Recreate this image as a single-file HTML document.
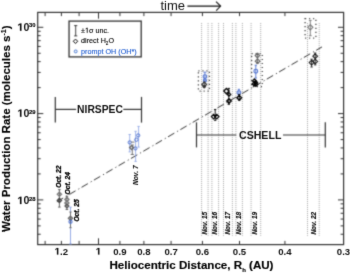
<!DOCTYPE html>
<html><head><meta charset="utf-8"><style>
html,body{margin:0;padding:0;background:#fff;}
svg{display:block;}
text{font-family:"Liberation Sans",sans-serif;}
.tl{font-size:9.6px;font-weight:bold;fill:#111;}
.yl{font-size:10.6px;font-weight:bold;fill:#111;}
.sup{font-size:5.9px;font-weight:bold;fill:#000;stroke:#000;stroke-width:0.12px;}
.lab{font-size:10.4px;font-weight:bold;fill:#111;}
.lg{font-size:7.2px;fill:#000;stroke:#000;stroke-width:0.12px;}
.lgb{fill:#1f5cd0;stroke:#1f5cd0;}
.time{font-size:13px;fill:#111;}
.ax{font-size:11.6px;font-weight:bold;fill:#000;stroke:#000;stroke-width:0.15px;}
.ay{font-size:11.5px;font-weight:bold;fill:#000;stroke:#000;stroke-width:0.15px;}
.dlm{font-size:6.7px;font-style:italic;font-weight:bold;fill:#111;stroke:#111;stroke-width:0.1px;}
.dl{font-size:6.5px;font-style:italic;font-weight:bold;fill:#111;stroke:#111;stroke-width:0.15px;}
.dlb{font-size:6.7px;font-style:italic;font-weight:bold;fill:#000;stroke:#000;stroke-width:0.3px;}
</style></head><body>
<svg width="350" height="273" viewBox="0 0 350 273">
<defs><filter id="bl" x="0" y="0" width="350" height="273" filterUnits="userSpaceOnUse" color-interpolation-filters="sRGB"><feConvolveMatrix order="3" kernelMatrix="0.0276 0.1109 0.0276 0.1109 0.4462 0.1109 0.0276 0.1109 0.0276" edgeMode="duplicate"/></filter>
<filter id="bt" x="0" y="0" width="350" height="273" filterUnits="userSpaceOnUse" color-interpolation-filters="sRGB"><feConvolveMatrix order="3" kernelMatrix="0.0100 0.0800 0.0100 0.0800 0.6400 0.0800 0.0100 0.0800 0.0100" edgeMode="none"/></filter></defs>
<g filter="url(#bl)">
<rect width="350" height="273" fill="#fff"/>
<rect x="37.7" y="12.4" width="305.90" height="232.20" fill="none" stroke="#333" stroke-width="1.2"/>
<line x1="45.11" y1="244.6" x2="45.11" y2="240.9" stroke="#333" stroke-width="1"/>
<line x1="45.11" y1="12.4" x2="45.11" y2="16.1" stroke="#333" stroke-width="1"/>
<line x1="61.40" y1="244.6" x2="61.40" y2="240.9" stroke="#333" stroke-width="1"/>
<line x1="61.40" y1="12.4" x2="61.40" y2="16.1" stroke="#333" stroke-width="1"/>
<line x1="79.10" y1="244.6" x2="79.10" y2="240.9" stroke="#333" stroke-width="1"/>
<line x1="79.10" y1="12.4" x2="79.10" y2="16.1" stroke="#333" stroke-width="1"/>
<line x1="119.93" y1="244.6" x2="119.93" y2="240.9" stroke="#333" stroke-width="1"/>
<line x1="119.93" y1="12.4" x2="119.93" y2="16.1" stroke="#333" stroke-width="1"/>
<line x1="143.90" y1="244.6" x2="143.90" y2="240.9" stroke="#333" stroke-width="1"/>
<line x1="143.90" y1="12.4" x2="143.90" y2="16.1" stroke="#333" stroke-width="1"/>
<line x1="171.07" y1="244.6" x2="171.07" y2="240.9" stroke="#333" stroke-width="1"/>
<line x1="171.07" y1="12.4" x2="171.07" y2="16.1" stroke="#333" stroke-width="1"/>
<line x1="202.43" y1="244.6" x2="202.43" y2="240.9" stroke="#333" stroke-width="1"/>
<line x1="202.43" y1="12.4" x2="202.43" y2="16.1" stroke="#333" stroke-width="1"/>
<line x1="239.53" y1="244.6" x2="239.53" y2="240.9" stroke="#333" stroke-width="1"/>
<line x1="239.53" y1="12.4" x2="239.53" y2="16.1" stroke="#333" stroke-width="1"/>
<line x1="284.93" y1="244.6" x2="284.93" y2="240.9" stroke="#333" stroke-width="1"/>
<line x1="284.93" y1="12.4" x2="284.93" y2="16.1" stroke="#333" stroke-width="1"/>
<line x1="98.50" y1="244.6" x2="98.50" y2="238.29999999999998" stroke="#333" stroke-width="1"/>
<line x1="98.50" y1="12.4" x2="98.50" y2="18.7" stroke="#333" stroke-width="1"/>
<line x1="37.7" y1="234.24" x2="40.7" y2="234.24" stroke="#333" stroke-width="1"/>
<line x1="343.6" y1="234.24" x2="340.6" y2="234.24" stroke="#333" stroke-width="1"/>
<line x1="37.7" y1="225.88" x2="40.7" y2="225.88" stroke="#333" stroke-width="1"/>
<line x1="343.6" y1="225.88" x2="340.6" y2="225.88" stroke="#333" stroke-width="1"/>
<line x1="37.7" y1="219.05" x2="40.7" y2="219.05" stroke="#333" stroke-width="1"/>
<line x1="343.6" y1="219.05" x2="340.6" y2="219.05" stroke="#333" stroke-width="1"/>
<line x1="37.7" y1="213.27" x2="40.7" y2="213.27" stroke="#333" stroke-width="1"/>
<line x1="343.6" y1="213.27" x2="340.6" y2="213.27" stroke="#333" stroke-width="1"/>
<line x1="37.7" y1="208.26" x2="40.7" y2="208.26" stroke="#333" stroke-width="1"/>
<line x1="343.6" y1="208.26" x2="340.6" y2="208.26" stroke="#333" stroke-width="1"/>
<line x1="37.7" y1="203.85" x2="40.7" y2="203.85" stroke="#333" stroke-width="1"/>
<line x1="343.6" y1="203.85" x2="340.6" y2="203.85" stroke="#333" stroke-width="1"/>
<line x1="37.7" y1="199.90" x2="43.300000000000004" y2="199.90" stroke="#333" stroke-width="1"/>
<line x1="343.6" y1="199.90" x2="338.0" y2="199.90" stroke="#333" stroke-width="1"/>
<line x1="37.7" y1="173.92" x2="40.7" y2="173.92" stroke="#333" stroke-width="1"/>
<line x1="343.6" y1="173.92" x2="340.6" y2="173.92" stroke="#333" stroke-width="1"/>
<line x1="37.7" y1="158.72" x2="40.7" y2="158.72" stroke="#333" stroke-width="1"/>
<line x1="343.6" y1="158.72" x2="340.6" y2="158.72" stroke="#333" stroke-width="1"/>
<line x1="37.7" y1="147.94" x2="40.7" y2="147.94" stroke="#333" stroke-width="1"/>
<line x1="343.6" y1="147.94" x2="340.6" y2="147.94" stroke="#333" stroke-width="1"/>
<line x1="37.7" y1="139.58" x2="40.7" y2="139.58" stroke="#333" stroke-width="1"/>
<line x1="343.6" y1="139.58" x2="340.6" y2="139.58" stroke="#333" stroke-width="1"/>
<line x1="37.7" y1="132.75" x2="40.7" y2="132.75" stroke="#333" stroke-width="1"/>
<line x1="343.6" y1="132.75" x2="340.6" y2="132.75" stroke="#333" stroke-width="1"/>
<line x1="37.7" y1="126.97" x2="40.7" y2="126.97" stroke="#333" stroke-width="1"/>
<line x1="343.6" y1="126.97" x2="340.6" y2="126.97" stroke="#333" stroke-width="1"/>
<line x1="37.7" y1="121.96" x2="40.7" y2="121.96" stroke="#333" stroke-width="1"/>
<line x1="343.6" y1="121.96" x2="340.6" y2="121.96" stroke="#333" stroke-width="1"/>
<line x1="37.7" y1="117.55" x2="40.7" y2="117.55" stroke="#333" stroke-width="1"/>
<line x1="343.6" y1="117.55" x2="340.6" y2="117.55" stroke="#333" stroke-width="1"/>
<line x1="37.7" y1="113.60" x2="43.300000000000004" y2="113.60" stroke="#333" stroke-width="1"/>
<line x1="343.6" y1="113.60" x2="338.0" y2="113.60" stroke="#333" stroke-width="1"/>
<line x1="37.7" y1="87.62" x2="40.7" y2="87.62" stroke="#333" stroke-width="1"/>
<line x1="343.6" y1="87.62" x2="340.6" y2="87.62" stroke="#333" stroke-width="1"/>
<line x1="37.7" y1="72.42" x2="40.7" y2="72.42" stroke="#333" stroke-width="1"/>
<line x1="343.6" y1="72.42" x2="340.6" y2="72.42" stroke="#333" stroke-width="1"/>
<line x1="37.7" y1="61.64" x2="40.7" y2="61.64" stroke="#333" stroke-width="1"/>
<line x1="343.6" y1="61.64" x2="340.6" y2="61.64" stroke="#333" stroke-width="1"/>
<line x1="37.7" y1="53.28" x2="40.7" y2="53.28" stroke="#333" stroke-width="1"/>
<line x1="343.6" y1="53.28" x2="340.6" y2="53.28" stroke="#333" stroke-width="1"/>
<line x1="37.7" y1="46.45" x2="40.7" y2="46.45" stroke="#333" stroke-width="1"/>
<line x1="343.6" y1="46.45" x2="340.6" y2="46.45" stroke="#333" stroke-width="1"/>
<line x1="37.7" y1="40.67" x2="40.7" y2="40.67" stroke="#333" stroke-width="1"/>
<line x1="343.6" y1="40.67" x2="340.6" y2="40.67" stroke="#333" stroke-width="1"/>
<line x1="37.7" y1="35.66" x2="40.7" y2="35.66" stroke="#333" stroke-width="1"/>
<line x1="343.6" y1="35.66" x2="340.6" y2="35.66" stroke="#333" stroke-width="1"/>
<line x1="37.7" y1="31.25" x2="40.7" y2="31.25" stroke="#333" stroke-width="1"/>
<line x1="343.6" y1="31.25" x2="340.6" y2="31.25" stroke="#333" stroke-width="1"/>
<line x1="37.7" y1="27.30" x2="43.300000000000004" y2="27.30" stroke="#333" stroke-width="1"/>
<line x1="343.6" y1="27.30" x2="338.0" y2="27.30" stroke="#333" stroke-width="1"/>
<line x1="201.6" y1="23" x2="201.6" y2="235.8" stroke="#a0a0a0" stroke-width="0.9" stroke-dasharray="1 1"/>
<line x1="208.1" y1="23" x2="208.1" y2="235.8" stroke="#a0a0a0" stroke-width="0.9" stroke-dasharray="1 1"/>
<line x1="211.9" y1="23" x2="211.9" y2="235.8" stroke="#a0a0a0" stroke-width="0.9" stroke-dasharray="1 1"/>
<line x1="218.6" y1="23" x2="218.6" y2="235.8" stroke="#a0a0a0" stroke-width="0.9" stroke-dasharray="1 1"/>
<line x1="223.5" y1="23" x2="223.5" y2="235.8" stroke="#a0a0a0" stroke-width="0.9" stroke-dasharray="1 1"/>
<line x1="232.4" y1="23" x2="232.4" y2="235.8" stroke="#a0a0a0" stroke-width="0.9" stroke-dasharray="1 1"/>
<line x1="235.9" y1="23" x2="235.9" y2="235.8" stroke="#a0a0a0" stroke-width="0.9" stroke-dasharray="1 1"/>
<line x1="242.4" y1="23" x2="242.4" y2="235.8" stroke="#a0a0a0" stroke-width="0.9" stroke-dasharray="1 1"/>
<line x1="251.1" y1="23" x2="251.1" y2="235.8" stroke="#a0a0a0" stroke-width="0.9" stroke-dasharray="1 1"/>
<line x1="260.7" y1="23" x2="260.7" y2="235.8" stroke="#a0a0a0" stroke-width="0.9" stroke-dasharray="1 1"/>
<line x1="307.5" y1="23" x2="307.5" y2="235.8" stroke="#a0a0a0" stroke-width="0.9" stroke-dasharray="1 1"/>
<line x1="319.2" y1="23" x2="319.2" y2="235.8" stroke="#a0a0a0" stroke-width="0.9" stroke-dasharray="1 1"/>
<line x1="55.4" y1="202.6" x2="322" y2="46.9" stroke="#111" stroke-width="0.85" stroke-dasharray="7.3 3.3 1.1 2.6" stroke-dashoffset="-1.7"/>
<line x1="55.3" y1="96.9" x2="55.3" y2="122.6" stroke="#333" stroke-width="1.2"/>
<line x1="141.5" y1="96.9" x2="141.5" y2="122.6" stroke="#333" stroke-width="1.2"/>
<line x1="55.3" y1="109.4" x2="76.1" y2="109.4" stroke="#333" stroke-width="1.2"/>
<line x1="123.3" y1="109.4" x2="141.5" y2="109.4" stroke="#333" stroke-width="1.2"/>
<line x1="196.5" y1="122.3" x2="196.5" y2="147.4" stroke="#333" stroke-width="1.2"/>
<line x1="325.3" y1="122.3" x2="325.3" y2="147.4" stroke="#333" stroke-width="1.2"/>
<line x1="196.5" y1="135" x2="236.3" y2="135" stroke="#333" stroke-width="1.2"/>
<line x1="283" y1="135" x2="325.3" y2="135" stroke="#333" stroke-width="1.2"/>
<rect x="69.05" y="21.1" width="72.15" height="35.8" fill="#fff" stroke="#333" stroke-width="1.3"/>
<path d="M75.7 25.6V35.9M74.1 25.6H77.3M74.1 35.9H77.3" fill="none" stroke="#222" stroke-width="0.85"/>
<path d="M75.5 39.1 L77.7 41.3 L75.5 43.5 L73.3 41.3 Z" fill="none" stroke="#000" stroke-width="1.0"/>
<circle cx="75.7" cy="51.4" r="1.45" fill="none" stroke="#2a62c8" stroke-width="0.85"/>
<line x1="187.4" y1="6.1" x2="220.4" y2="6.1" stroke="#111" stroke-width="1.05"/>
<path d="M216 1.6 L220.6 6.1 L216.2 10.6" fill="none" stroke="#111" stroke-width="1.05"/>
<rect x="198.4" y="70.8" width="11.00" height="20.30" fill="none" stroke="#444" stroke-width="1.3" stroke-dasharray="1.1 2.9"/>
<rect x="251.6" y="53.6" width="10.70" height="33.00" fill="none" stroke="#444" stroke-width="1.3" stroke-dasharray="1.1 2.9"/>
<rect x="305.1" y="18.6" width="10.80" height="19.50" fill="none" stroke="#444" stroke-width="1.3" stroke-dasharray="1.1 2.9"/>
<path d="M59.4 189.6V207.1M58.1 189.6H60.699999999999996M58.1 207.1H60.699999999999996" fill="none" stroke="#555" stroke-width="0.9"/>
<path d="M59.4 192.20000000000002L61.5 194.3L59.4 196.4L57.3 194.3Z" fill="none" stroke="#777" stroke-width="1.32"/>
<path d="M59.4 198.3L61.5 200.4L59.4 202.5L57.3 200.4Z" fill="none" stroke="#444" stroke-width="1.32"/>
<path d="M66.9 196.3V209.5M65.60000000000001 196.3H68.2M65.60000000000001 209.5H68.2" fill="none" stroke="#555" stroke-width="0.9"/>
<path d="M66.9 197.3L69.0 199.4L66.9 201.5L64.80000000000001 199.4Z" fill="none" stroke="#777" stroke-width="1.32"/>
<path d="M66.9 200.9L69.0 203L66.9 205.1L64.80000000000001 203Z" fill="none" stroke="#777" stroke-width="1.32"/>
<path d="M66.9 204.1L68.80000000000001 206L66.9 207.9L65.0 206Z" fill="none" stroke="#555" stroke-width="1.32"/>
<path d="M70.5 207.2V244M69.2 207.2H71.8M69.2 244H71.8" fill="none" stroke="#8aa2e2" stroke-width="0.9"/>
<path d="M70.5 212V227.7M69.3 212H71.7M69.3 227.7H71.7" fill="none" stroke="#666" stroke-width="0.9"/>
<path d="M70.5 216.1L72.6 218.2L70.5 220.29999999999998L68.4 218.2Z" fill="none" stroke="#666" stroke-width="1.32"/>
<circle cx="70.5" cy="221.8" r="1.6" fill="none" stroke="#5274d0" stroke-width="1.1"/>
<path d="M129.7 134.5V151.9M128.5 134.5H130.89999999999998M128.5 151.9H130.89999999999998" fill="none" stroke="#8aa2e2" stroke-width="0.8"/>
<circle cx="129.7" cy="142.4" r="1.6" fill="none" stroke="#5274d0" stroke-width="1.0"/>
<line x1="131.1" y1="142.1" x2="134.5" y2="142.1" stroke="#555" stroke-width="0.8"/>
<path d="M138.6 126.4V147.1M137.4 126.4H139.79999999999998M137.4 147.1H139.79999999999998" fill="none" stroke="#8aa2e2" stroke-width="0.8"/>
<circle cx="138.2" cy="135.4" r="1.6" fill="none" stroke="#5274d0" stroke-width="1.0"/>
<path d="M135.6 131.3V161.4M134.4 131.3H136.79999999999998M134.4 161.4H136.79999999999998" fill="none" stroke="#8aa2e2" stroke-width="0.8"/>
<circle cx="136.4" cy="139.7" r="1.7" fill="none" stroke="#5274d0" stroke-width="1.0"/>
<circle cx="135.4" cy="148.4" r="1.6" fill="none" stroke="#5274d0" stroke-width="1.0"/>
<path d="M132.3 145V154.5M130.70000000000002 145H133.9M130.70000000000002 154.5H133.9" fill="none" stroke="#666" stroke-width="0.9"/>
<path d="M131.6 145.6L133.6 147.6L131.6 149.6L129.6 147.6Z" fill="none" stroke="#666" stroke-width="1.32"/>
<path d="M204.9 72.2V81.0M203.4 72.2H206.4M203.4 81.0H206.4" fill="none" stroke="#5274d0" stroke-width="0.9"/>
<circle cx="204.9" cy="76.6" r="1.8" fill="none" stroke="#5274d0" stroke-width="1.1"/>
<circle cx="204.9" cy="80.4" r="1.5" fill="none" stroke="#5274d0" stroke-width="1.1"/>
<path d="M204.2 82.2V87.2M203.0 82.2H205.39999999999998M203.0 87.2H205.39999999999998" fill="none" stroke="#333" stroke-width="0.9"/>
<path d="M204.2 82.0L206.6 84.4L204.2 86.80000000000001L201.79999999999998 84.4Z" fill="none" stroke="#333" stroke-width="1.2"/>
<path d="M204.2 85.3L205.5 86.6L204.2 87.89999999999999L202.89999999999998 86.6Z" fill="none" stroke="#333" stroke-width="1.08"/>
<path d="M215.2 109.5V120.4M214.1 109.5H216.29999999999998M214.1 120.4H216.29999999999998" fill="none" stroke="#000" stroke-width="0.9"/>
<path d="M213.6 114.39999999999999L215.79999999999998 116.6L213.6 118.8L211.4 116.6Z" fill="none" stroke="#000" stroke-width="1.2"/>
<path d="M216.8 114.39999999999999L219.0 116.6L216.8 118.8L214.60000000000002 116.6Z" fill="none" stroke="#000" stroke-width="1.2"/>
<path d="M228.8 88.4V104.3M227.60000000000002 88.4H230.0M227.60000000000002 104.3H230.0" fill="none" stroke="#000" stroke-width="0.9"/>
<path d="M226.4 88.5L229.0 91.1L226.4 93.69999999999999L223.8 91.1Z" fill="none" stroke="#000" stroke-width="1.32"/>
<path d="M229.0 92.60000000000001L230.8 94.4L229.0 96.2L227.2 94.4Z" fill="none" stroke="#000" stroke-width="1.2"/>
<path d="M229.0 98.7L231.3 101.0L229.0 103.3L226.7 101.0Z" fill="none" stroke="#000" stroke-width="1.32"/>
<path d="M238.9 89.3V94.6M237.8 89.3H240.0M237.8 94.6H240.0" fill="none" stroke="#5274d0" stroke-width="0.9"/>
<circle cx="238.9" cy="92.6" r="1.9" fill="none" stroke="#5274d0" stroke-width="1.1"/>
<path d="M239.25 94.6V100.1M238.05 94.6H240.45M238.05 100.1H240.45" fill="none" stroke="#000" stroke-width="0.9"/>
<path d="M239.25 95.39999999999999L241.65 97.8L239.25 100.2L236.85 97.8Z" fill="none" stroke="#000" stroke-width="1.32"/>
<path d="M257.4 53.4V63.4M256.2 53.4H258.59999999999997M256.2 63.4H258.59999999999997" fill="none" stroke="#666" stroke-width="0.9"/>
<path d="M257.4 53.4L259.59999999999997 55.6L257.4 57.800000000000004L255.2 55.6Z" fill="none" stroke="#666" stroke-width="1.2"/>
<path d="M257.6 58.900000000000006L259.90000000000003 61.2L257.6 63.5L255.3 61.2Z" fill="none" stroke="#666" stroke-width="1.2"/>
<path d="M255.8 65.2V78M254.60000000000002 65.2H257.0M254.60000000000002 78H257.0" fill="none" stroke="#5274d0" stroke-width="0.9"/>
<circle cx="255.8" cy="71.2" r="1.9" fill="none" stroke="#5274d0" stroke-width="1.1"/>
<path d="M254.4 79.0L256.3 80.9L254.4 82.80000000000001L252.5 80.9Z" fill="none" stroke="#000" stroke-width="1.32"/>
<path d="M255.6 80.5L257.5 82.4L255.6 84.30000000000001L253.7 82.4Z" fill="none" stroke="#000" stroke-width="1.32"/>
<path d="M254.1 82.1L256.0 84.0L254.1 85.9L252.2 84.0Z" fill="none" stroke="#000" stroke-width="1.32"/>
<path d="M255.9 82.5L257.8 84.4L255.9 86.30000000000001L254.0 84.4Z" fill="none" stroke="#000" stroke-width="1.32"/>
<path d="M310.3 20.4V35.7M308.90000000000003 20.4H311.7M308.90000000000003 35.7H311.7" fill="none" stroke="#777" stroke-width="0.9"/>
<path d="M310.3 24.7L312.90000000000003 27.3L310.3 29.900000000000002L307.7 27.3Z" fill="none" stroke="#777" stroke-width="1.08"/>
<path d="M315.2 53V64.9M314.0 53H316.4M314.0 64.9H316.4" fill="none" stroke="#222" stroke-width="0.9"/>
<path d="M315.2 53.800000000000004L317.59999999999997 56.2L315.2 58.6L312.8 56.2Z" fill="none" stroke="#111" stroke-width="1.02"/>
<path d="M315.2 59.1L317.59999999999997 61.5L315.2 63.9L312.8 61.5Z" fill="none" stroke="#111" stroke-width="1.02"/>
<path d="M311.6 59.2V67M310.40000000000003 59.2H312.8M310.40000000000003 67H312.8" fill="none" stroke="#222" stroke-width="0.9"/>
<path d="M311.6 60.2L314.0 62.6L311.6 65.0L309.20000000000005 62.6Z" fill="none" stroke="#111" stroke-width="1.02"/>
</g>
<g filter="url(#bt)">
<text x="119.93" y="254.6" class="tl" text-anchor="middle">0.9</text>
<text x="143.90" y="254.6" class="tl" text-anchor="middle">0.8</text>
<text x="171.07" y="254.6" class="tl" text-anchor="middle">0.7</text>
<text x="202.43" y="254.6" class="tl" text-anchor="middle">0.6</text>
<text x="239.53" y="254.6" class="tl" text-anchor="middle">0.5</text>
<text x="284.93" y="254.6" class="tl" text-anchor="middle">0.4</text>
<text x="343.47" y="254.6" class="tl" text-anchor="middle">0.3</text>
<path transform="translate(54.727,254.6) scale(0.004687,-0.004687)" d="M478 0L478 1170L140 959L140 1180L493 1409L759 1409L759 0Z" fill="#111" stroke="#111" stroke-width="42.7" stroke-linejoin="round"/>
<text x="60.066" y="254.6" class="tl">.2</text>
<path transform="translate(95.827,254.6) scale(0.004687,-0.004687)" d="M478 0L478 1170L140 959L140 1180L493 1409L759 1409L759 0Z" fill="#111" stroke="#111" stroke-width="42.7" stroke-linejoin="round"/>
<path transform="translate(17.510,30.7) scale(0.005176,-0.005176)" d="M478 0L478 1170L140 959L140 1180L493 1409L759 1409L759 0Z" fill="#111" stroke="#111" stroke-width="38.6" stroke-linejoin="round"/>
<text x="23.405" y="30.7" class="yl">0</text>
<text x="29.0" y="27.15" class="sup">30</text>
<path transform="translate(17.510,116.8) scale(0.005176,-0.005176)" d="M478 0L478 1170L140 959L140 1180L493 1409L759 1409L759 0Z" fill="#111" stroke="#111" stroke-width="38.6" stroke-linejoin="round"/>
<text x="23.405" y="116.8" class="yl">0</text>
<text x="29.0" y="113.85" class="sup">29</text>
<path transform="translate(17.510,204.1) scale(0.005176,-0.005176)" d="M478 0L478 1170L140 959L140 1180L493 1409L759 1409L759 0Z" fill="#111" stroke="#111" stroke-width="38.6" stroke-linejoin="round"/>
<text x="23.405" y="204.1" class="yl">0</text>
<text x="29.0" y="201.4" class="sup">28</text>
<text x="100.0" y="112.9" class="lab" style="font-size:10.3px" text-anchor="middle">NIRSPEC</text>
<text x="260.2" y="138.6" class="lab" style="font-size:10.6px" text-anchor="middle">CSHELL</text>
<text x="81.1" y="32.8" class="lg">±</text>
<path transform="translate(85.052,32.8) scale(0.003516,-0.003516)" d="M515 0L515 1237L197 1010L197 1180L530 1409L696 1409L696 0Z" fill="#000" stroke="#000" stroke-width="56.9" stroke-linejoin="round"/>
<text x="89.056" y="32.8" class="lg">σ unc.</text>
<text x="81.1" y="43.4" class="lg">direct H<tspan font-size="4.6" dy="1.6">2</tspan><tspan dy="-1.6">O</tspan></text>
<text x="81.1" y="53.6" class="lg lgb">prompt OH (OH*)</text>
<text x="160.4" y="10.3" class="time">time</text>
<text x="109.4" y="269.0" class="ax">Heliocentric Distance, R<tspan font-size="6" dy="3.4">h</tspan><tspan dy="-3.4"> (AU)</tspan></text>
<text transform="translate(10,232) rotate(-90)" class="ay">Water Production Rate (molecules s<tspan font-size="7" dy="-4">-1</tspan><tspan dy="4">)</tspan></text>
<text transform="translate(61.3,187.8) rotate(-90)" class="dlb">Oct. 22</text>
<text transform="translate(69.6,194.4) rotate(-90)" class="dlb">Oct. 24</text>
<text transform="translate(78.9,221.6) rotate(-90)" class="dlb">Oct. 25</text>
<text transform="translate(138.4,185.1) rotate(-90)" class="dlm">Nov. 7</text>
<text transform="translate(206.7,234.6) rotate(-90)" class="dl">Nov. 15</text>
<text transform="translate(216.65,234.6) rotate(-90)" class="dl">Nov. 16</text>
<text transform="translate(229.85,234.6) rotate(-90)" class="dl">Nov. 17</text>
<text transform="translate(240.6,234.6) rotate(-90)" class="dl">Nov. 18</text>
<text transform="translate(257.35,234.6) rotate(-90)" class="dl">Nov. 19</text>
<text transform="translate(315.8,234.6) rotate(-90)" class="dl">Nov. 22</text>
</g>
</svg>
</body></html>
